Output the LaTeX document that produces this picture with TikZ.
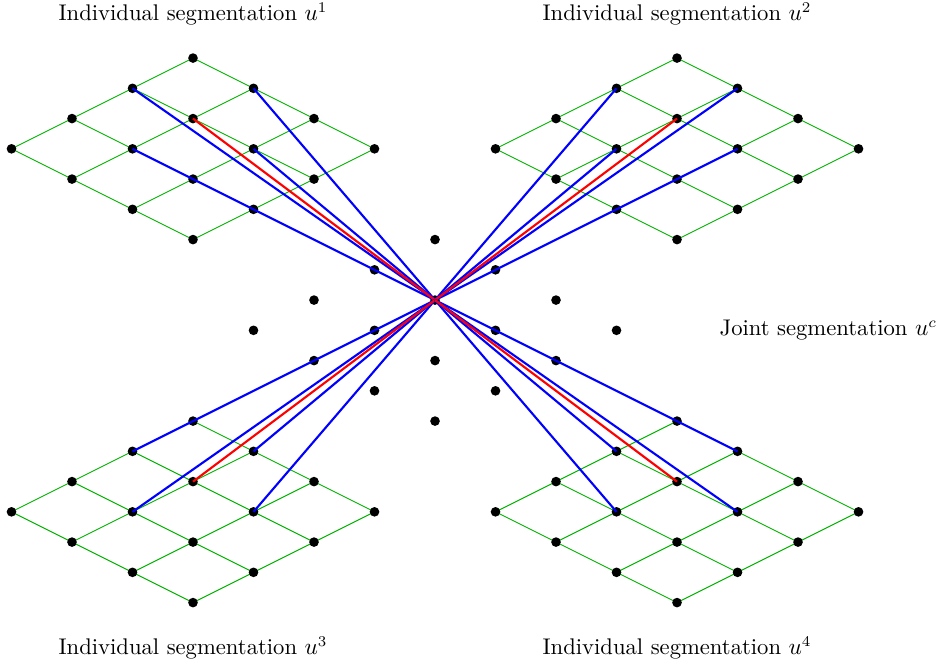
\documentclass[tikz,border=0pt]{standalone}
\usepackage{amsmath}
\usetikzlibrary{backgrounds}
\tikzset{
  dot/.style  = {circle, fill=black, inner sep=1.6pt},
  mesh/.style = {green!70!black, line width=0.45pt},
  link/.style = {blue, line width=1pt},
  own/.style  = {red, line width=1pt},
  lbl/.style  = {font=\fontsize{10.65}{13}\selectfont},
}
\begin{document}
\begin{tikzpicture}[x=1cm,y=1cm]
  \useasboundingbox (-7.19,-6.08) rectangle (8.33,4.96);
  % lattice points: individual grids g1..g4 and joint grid c
  \foreach \g/\x/\y in {g1/-4/4,g2/4/4,g3/-4/-2,g4/4/-2,c/0/1}{
    \foreach \i in {0,...,3}{
      \foreach \j in {0,...,3}{
        \node[dot] (\g-\i-\j) at ({\x+\i-\j},{\y-0.5*\i-0.5*\j}) {};}}}
  \begin{scope}[on background layer]
    \foreach \g in {g1,g2,g3,g4}{
      \foreach \i in {0,...,3}{
        \foreach \j/\k in {0/1,1/2,2/3}{
          \draw[mesh] (\g-\i-\j.center) -- (\g-\i-\k.center);
          \draw[mesh] (\g-\j-\i.center) -- (\g-\k-\i.center);}}}
  \end{scope}
  % joint pixel tied to its neighbours in every individual grid
  \foreach \g in {g1,g2,g3,g4}{
    \foreach \p in {0-1,1-0,2-1,1-2}{
      \draw[link] (c-1-1.center) -- (\g-\p.center);}
    \draw[own] (c-1-1.center) -- (\g-1-1.center);}
  \node[lbl] (l1) at (-4,4.73) {Individual segmentation $u^1$};
  \node[lbl] (l2) at (4,4.73) {Individual segmentation $u^2$};
  \node[lbl] (l3) at (-4,-5.75) {Individual segmentation $u^3$};
  \node[lbl] (l4) at (4,-5.75) {Individual segmentation $u^4$};
  \node[lbl,anchor=west] (lc) at (4.58,-0.5) {Joint segmentation $u^c$};
\end{tikzpicture}
\end{document}
